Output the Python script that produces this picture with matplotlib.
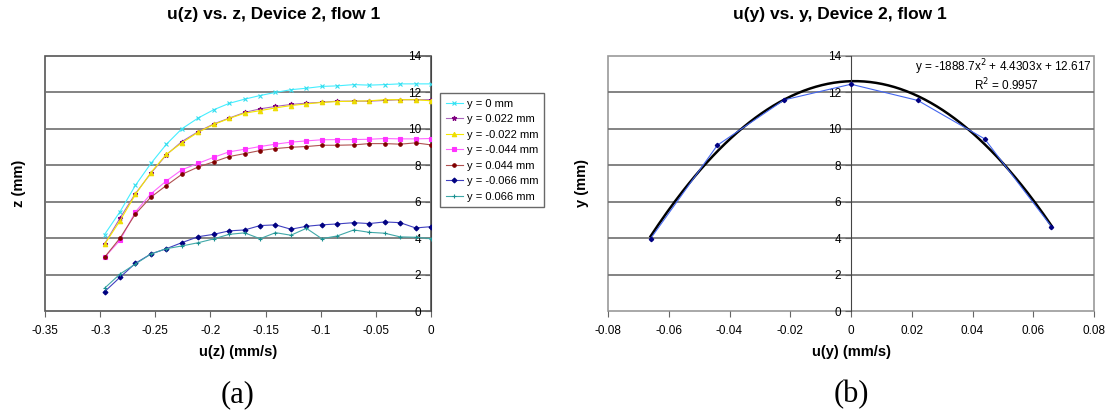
import numpy as np
import matplotlib.pyplot as plt
from matplotlib.patches import Rectangle

# ---- panel (a): u(z) vs z ----
uz = [-0.296, -0.282, -0.268, -0.254, -0.240, -0.226, -0.211, -0.197, -0.183, -0.169, -0.155,
      -0.141, -0.127, -0.113, -0.099, -0.085, -0.070, -0.056, -0.042, -0.028, -0.014, 0.0]

z_y0 = [4.20, 5.45, 6.90, 8.10, 9.15, 10.00, 10.60, 11.05, 11.40, 11.63, 11.83,
        12.00, 12.15, 12.23, 12.33, 12.36, 12.43, 12.40, 12.43, 12.47, 12.47, 12.47]
z_p022 = [3.68, 5.10, 6.45, 7.56, 8.57, 9.30, 9.85, 10.27, 10.59, 10.90, 11.10,
          11.23, 11.34, 11.41, 11.46, 11.52, 11.52, 11.52, 11.56, 11.60, 11.60, 11.60]
z_m022 = [3.66, 4.95, 6.40, 7.60, 8.60, 9.23, 9.82, 10.24, 10.57, 10.86, 11.00,
          11.15, 11.28, 11.37, 11.45, 11.50, 11.52, 11.54, 11.60, 11.60, 11.60, 11.54]
z_m044 = [2.95, 3.88, 5.44, 6.43, 7.14, 7.75, 8.11, 8.44, 8.74, 8.88, 9.03,
          9.16, 9.27, 9.34, 9.40, 9.41, 9.41, 9.43, 9.47, 9.45, 9.45, 9.47]
z_p044 = [2.95, 4.00, 5.33, 6.25, 6.89, 7.50, 7.91, 8.19, 8.48, 8.64, 8.81,
          8.92, 8.99, 9.03, 9.10, 9.10, 9.12, 9.19, 9.19, 9.16, 9.23, 9.12]
z_m066 = [1.06, 1.85, 2.62, 3.13, 3.42, 3.75, 4.08, 4.21, 4.40, 4.45, 4.69,
          4.73, 4.49, 4.65, 4.73, 4.78, 4.85, 4.80, 4.89, 4.85, 4.56, 4.63]
z_p066 = [1.25, 2.03, 2.58, 3.13, 3.42, 3.57, 3.75, 3.96, 4.21, 4.29, 3.97,
          4.30, 4.16, 4.54, 3.97, 4.12, 4.45, 4.32, 4.27, 4.07, 4.05, 3.97]

series_labels = ['y = 0 mm', 'y = 0.022 mm', 'y = -0.022 mm', 'y = -0.044 mm',
                 'y = 0.044 mm', 'y = -0.066 mm', 'y = 0.066 mm']

# ---- panel (b): u(y) vs y ----
uy = [-0.066, -0.044, -0.022, 0.0, 0.022, 0.044, 0.066]
y_vals = [3.97, 9.10, 11.59, 12.45, 11.56, 9.45, 4.63]
fit_coef = [-1888.7, 4.4303, 12.617]

W, H = 1107, 412
fig = plt.figure(figsize=(W / 100, H / 100), dpi=100)
plt.rcParams['font.family'] = ['Liberation Sans', 'DejaVu Sans']


def px_axes(x0, x1, y0, y1):
    return fig.add_axes([x0 / W, 1 - y1 / H, (x1 - x0) / W, (y1 - y0) / H])


def style_axes(ax, frame_color, grid_color):
    for s in ['top', 'right', 'bottom']:
        ax.spines[s].set_visible(False)
    ax.spines['left'].set_position(('data', 0))
    ax.spines['left'].set_color('#444444')
    ax.add_patch(Rectangle((0, 0), 1, 1, transform=ax.transAxes, fill=False,
                           edgecolor=frame_color, lw=1.2, zorder=0.5, clip_on=False))
    ax.set_ylim(0, 14)
    ax.set_yticks(np.arange(0, 16, 2))
    for g in range(2, 14, 2):
        ax.axhline(g, color=grid_color, lw=1.2, zorder=0.6)
    ax.tick_params(axis='both', labelsize=8.5, direction='out', length=4,
                   color='#666666', width=0.8)
    ax.tick_params(axis='x', pad=6)
    ax.tick_params(axis='y', pad=3)


# panel (a)
ax1 = px_axes(45, 431, 56, 311)
style_axes(ax1, '#555555', '#6e6e6e')
ax1.set_xlim(-0.35, 0)
ax1.set_xticks(np.arange(-0.35, 0.001, 0.05))
ax1.set_xticklabels(['-0.35', '-0.3', '-0.25', '-0.2', '-0.15', '-0.1', '-0.05', '0'])

styles = [
    (z_y0, '#44eeff', '#33ddee', 'x', 3),
    (z_p022, '#aa66bb', '#800080', '*', 3.5),
    (z_m022, '#f5e800', '#eedd00', '^', 3.2),
    (z_m044, '#ff66ff', '#ff33ff', 's', 2.8),
    (z_p044, '#b05050', '#800000', 'o', 2.5),
    (z_m066, '#4040c0', '#000080', 'D', 2.5),
    (z_p066, '#40a8a8', '#1a9090', '+', 3.5),
]
for (vals, lc, mc, mk, ms), lab in zip(styles, series_labels):
    ax1.plot(uz, vals, color=lc, lw=0.8, marker=mk, markersize=ms,
             markerfacecolor=mc, markeredgecolor=mc, markeredgewidth=0.8,
             label=lab, zorder=3)

leg = fig.legend(*ax1.get_legend_handles_labels(), loc='upper left',
                 bbox_to_anchor=(440 / W, 1 - 93 / H), fontsize=8,
                 fancybox=False, frameon=True, handlelength=1.6,
                 borderpad=0.5, labelspacing=0.5, handletextpad=0.3,
                 borderaxespad=0)
leg.get_frame().set_edgecolor('#444444')
leg.get_frame().set_linewidth(1.0)

# panel (b)
ax2 = px_axes(608, 1094, 56, 311)
style_axes(ax2, '#999999', '#6e6e6e')
ax2.set_xlim(-0.08, 0.08)
ax2.set_xticks(np.arange(-0.08, 0.081, 0.02))
ax2.set_xticklabels(['-0.08', '-0.06', '-0.04', '-0.02', '0', '0.02', '0.04', '0.06', '0.08'])
ax2.plot(uy, y_vals, color='#4466ee', lw=0.8, marker='D', markersize=2.2,
         markerfacecolor='#000080', markeredgecolor='#000080', zorder=3)
xf = np.linspace(uy[0], uy[-1], 200)
ax2.plot(xf, np.polyval(fit_coef, xf), color='black', lw=1.8, zorder=2)
ax2.text(0.995, 0.955, 'y = -1888.7x$^2$ + 4.4303x + 12.617', transform=ax2.transAxes,
         ha='right', va='center', fontsize=8.5)
ax2.text(0.82, 0.885, 'R$^2$ = 0.9957', transform=ax2.transAxes,
         ha='center', va='center', fontsize=8.5)

# titles and labels
fig.text(274 / W, 1 - 15 / H, 'u(z) vs. z, Device 2, flow 1', ha='center', va='center',
         fontsize=12.5, fontweight='bold')
fig.text(840 / W, 1 - 15 / H, 'u(y) vs. y, Device 2, flow 1', ha='center', va='center',
         fontsize=12.5, fontweight='bold')
fig.text(238 / W, 1 - 352 / H, 'u(z) (mm/s)', ha='center', va='center',
         fontsize=10.5, fontweight='bold')
fig.text(851 / W, 1 - 352 / H, 'u(y) (mm/s)', ha='center', va='center',
         fontsize=10.5, fontweight='bold')
fig.text(19 / W, 1 - 183 / H, 'z (mm)', ha='center', va='center', rotation=90,
         fontsize=10.5, fontweight='bold')
fig.text(582 / W, 1 - 183 / H, 'y (mm)', ha='center', va='center', rotation=90,
         fontsize=10.5, fontweight='bold')
fig.text(238 / W, 1 - 395 / H, '(a)', ha='center', va='center', fontsize=22,
         family='Liberation Serif')
fig.text(851 / W, 1 - 395 / H, '(b)', ha='center', va='center', fontsize=22,
         family='Liberation Serif')

fig.savefig('out.png', dpi=100)
